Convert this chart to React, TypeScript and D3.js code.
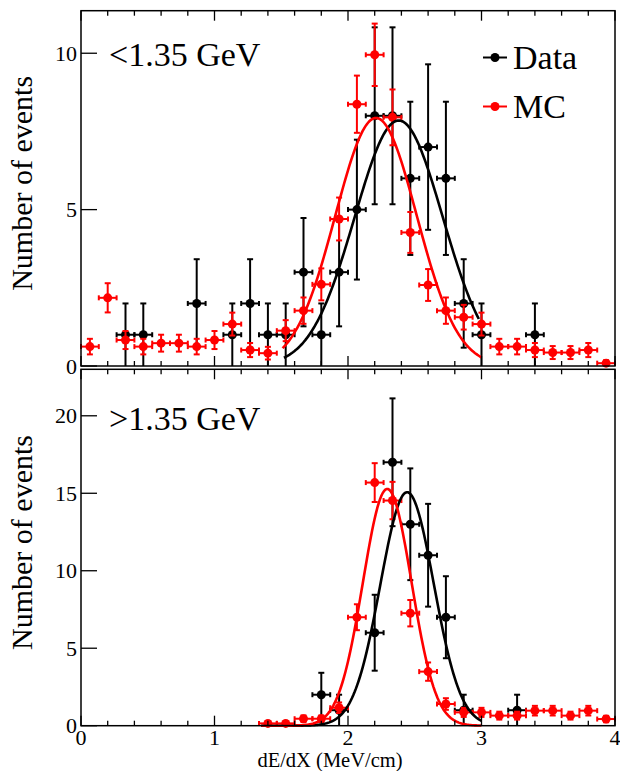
import React from "react";
import * as d3 from "d3";

// histogram binning
const nBins = 30;
const xMin = 0;
const xMax = 4;

// counts per bin, momentum < 1.35 GeV
const dataLow = [0, 0, 1, 1, 0, 0, 2, 0, 1, 2, 1, 1, 3, 1, 3, 5, 8, 8, 6, 7, 6, 2, 1, 0, 0, 1, 0, 0, 0, 0];
const mcLow = [0.62, 2.18, 0.83, 0.62, 0.73, 0.73, 0.62, 0.83, 1.34, 0.51, 0.41, 1.13, 1.77, 2.61, 4.7, 8.37, 9.95, 7.95, 4.27, 2.59, 1.77, 1.56, 1.34, 0.62, 0.62, 0.51, 0.43, 0.43, 0.51, 0.09];

// counts per bin, momentum > 1.35 GeV
const dataHigh = [0, 0, 0, 0, 0, 0, 0, 0, 0, 0, 0, 0, 0, 2, 1, 0, 6, 17, 13, 11, 7, 1, 0, 0, 1, 0, 0, 0, 0, 0];
const mcHigh = [0, 0, 0, 0, 0, 0, 0, 0, 0, 0, 0.15, 0.15, 0.45, 0.45, 1.16, 7.0, 15.69, 14.53, 7.26, 3.49, 1.4, 0.86, 0.86, 0.65, 0.65, 0.97, 0.97, 0.65, 0.97, 0.43];

// MC events are weighted, error = sqrt(w * sum)
const mcWeight = 0.1;

// gaussian fits
const fitDataLow = { amp: 7.85, mean: 2.38, sigma: 0.33, from: 1.52, to: 2.98 };
const fitMcLow = { amp: 7.93, mean: 2.21, sigma: 0.305, from: 1.51, to: 3.0 };
const fitDataHigh = { amp: 15.07, mean: 2.443, sigma: 0.2, from: 1.35, to: 3.0 };
const fitMcHigh = { amp: 15.28, mean: 2.294, sigma: 0.182, from: 1.35, to: 3.0 };

const xTicks = [0, 1, 2, 3, 4];
const yTicksLow = [0, 5, 10];
const yTicksHigh = [0, 5, 10, 15, 20];

const W = 620;
const H = 771;
const left = 81;
const right = 615;
const font = "'Liberation Serif', 'Times New Roman', serif";

const x = d3.scaleLinear().domain([xMin, xMax]).range([left, right]);
const binW = (xMax - xMin) / nBins;
const minorTicks = d3.range(xMin, xMax + 1e-9, 0.2);

function Points({ values, errs, y, color }) {
  return (
    <g stroke={color} fill={color} strokeWidth={2}>
      {values.map((v, i) => {
        if (v <= 0) return null;
        const c = xMin + (i + 0.5) * binW;
        const x0 = x(c - binW / 2);
        const x1 = x(c + binW / 2);
        const cx = x(c);
        const cy = y(v);
        const e = errs[i];
        const yLo = y(Math.max(0, v - e));
        const yHi = y(v + e);
        return (
          <g key={i}>
            <line x1={x0} x2={x1} y1={cy} y2={cy} />
            <line x1={x0} x2={x0} y1={cy - 2.5} y2={cy + 2.5} />
            <line x1={x1} x2={x1} y1={cy - 2.5} y2={cy + 2.5} />
            <line x1={cx} x2={cx} y1={yLo} y2={yHi} />
            <line x1={cx - 3} x2={cx + 3} y1={yHi} y2={yHi} />
            {v - e > 0 && <line x1={cx - 3} x2={cx + 3} y1={yLo} y2={yLo} />}
            <circle cx={cx} cy={cy} r={4.5} stroke="none" />
          </g>
        );
      })}
    </g>
  );
}

function Fit({ fit, y, color }) {
  const xs = d3.range(fit.from, fit.to + 1e-9, 0.01);
  const line = d3
    .line()
    .x((d) => x(d))
    .y((d) => y(fit.amp * Math.exp(-((d - fit.mean) ** 2) / (2 * fit.sigma ** 2))));
  return <path d={line(xs)} fill="none" stroke={color} strokeWidth={2.6} />;
}

function Panel({ top, bottom, yMax, yTicks, data, mc, fitData, fitMc, label, labelY, showX }) {
  const y = d3.scaleLinear().domain([0, yMax]).range([bottom, top]);
  return (
    <g>
      <Points values={data} errs={data.map((v) => Math.sqrt(v))} y={y} color="#000" />
      <Points values={mc} errs={mc.map((v) => Math.sqrt(mcWeight * v))} y={y} color="#ff0000" />
      <Fit fit={fitData} y={y} color="#000" />
      <Fit fit={fitMc} y={y} color="#ff0000" />
      <rect x={left} y={top} width={right - left} height={bottom - top} fill="none" stroke="#000" strokeWidth={1.5} />
      {/* x ticks bottom and top */}
      {minorTicks.map((t, i) => {
        const major = Math.abs(t - Math.round(t)) < 1e-6;
        const len = major ? 10 : 5;
        return (
          <g key={i} stroke="#000" strokeWidth={1.3}>
            <line x1={x(t)} x2={x(t)} y1={bottom} y2={bottom - len} />
            <line x1={x(t)} x2={x(t)} y1={top} y2={top + len} />
          </g>
        );
      })}
      {yTicks.map((t) => (
        <g key={t}>
          <line x1={left} x2={left + 16} y1={y(t)} y2={y(t)} stroke="#000" strokeWidth={1.3} />
          <text x={left - 4} y={y(t)} dy="0.35em" textAnchor="end" fontSize={22} fontFamily={font}>
            {t}
          </text>
        </g>
      ))}
      {showX &&
        xTicks.map((t) => (
          <text key={t} x={x(t)} y={bottom + 19} textAnchor="middle" fontSize={22} fontFamily={font}>
            {t}
          </text>
        ))}
      <text x={109} y={labelY} fontSize={34} fontFamily={font}>
        {label}
      </text>
      <text
        transform={`translate(32, ${(top + bottom) / 2 - 5}) rotate(-90)`}
        textAnchor="middle"
        fontSize={30}
        fontFamily={font}
      >
        Number of events
      </text>
    </g>
  );
}

export default function App() {
  return (
    <svg width={W} height={H} style={{ position: "absolute", left: 0, top: 0, background: "#fff" }}>
      <rect width={W} height={H} fill="#fff" />
      <Panel
        top={10.7}
        bottom={366}
        yMax={11.36}
        yTicks={yTicksLow}
        data={dataLow}
        mc={mcLow}
        fitData={fitDataLow}
        fitMc={fitMcLow}
        label="<1.35 GeV"
        labelY={66}
        showX={false}
      />
      <Panel
        top={369.3}
        bottom={725.7}
        yMax={23}
        yTicks={yTicksHigh}
        data={dataHigh}
        mc={mcHigh}
        fitData={fitDataHigh}
        fitMc={fitMcHigh}
        label=">1.35 GeV"
        labelY={430}
        showX={true}
      />
      {/* legend */}
      <g>
        <line x1={483} x2={507} y1={57.5} y2={57.5} stroke="#000" strokeWidth={2} />
        <circle cx={495} cy={57.5} r={4.5} fill="#000" />
        <text x={513} y={69} fontSize={34} fontFamily={font}>
          Data
        </text>
        <line x1={483} x2={507} y1={106.5} y2={106.5} stroke="#ff0000" strokeWidth={2} />
        <circle cx={495} cy={106.5} r={4.5} fill="#ff0000" />
        <text x={513} y={118} fontSize={34} fontFamily={font}>
          MC
        </text>
      </g>
      <text x={330} y={767} textAnchor="middle" fontSize={20.5} fontFamily={font}>
        dE/dX (MeV/cm)
      </text>
    </svg>
  );
}
